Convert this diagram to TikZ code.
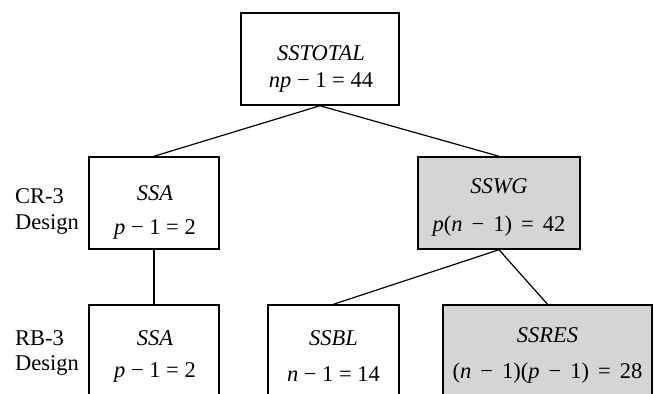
\documentclass[tikz,border=0pt]{standalone}
\usepackage{fontspec}
\setmainfont{Liberation Serif}
\usetikzlibrary{positioning}
\definecolor{boxgray}{RGB}{213,213,215}

\begin{document}
\begin{tikzpicture}[x=1pt,y=-1pt,font=\fontsize{22.5}{27}\selectfont,
  ssbox/.style={draw,line width=1.5pt,inner sep=0pt,minimum height=92pt},
  sstext/.style={align=center,anchor=base,inner sep=0pt},
  link/.style={line width=1.2pt}]
	\useasboundingbox (0,0) rectangle (654,394);
	\clip (0,0) rectangle (654,394);
	% Boxes
	\node[ssbox,minimum width=158pt] (tot) at (320,59) {};
	\node[ssbox,minimum width=130pt] (a1) at (154,203) {};
	\node[ssbox,fill=boxgray,minimum width=162pt] (wg) at (499,203) {};
	\node[ssbox,minimum width=130pt,minimum height=130pt] (a2) at (154,370) {};
	\node[ssbox,minimum width=131pt,minimum height=130pt] (bl) at (333.5,370) {};
	\node[ssbox,fill=boxgray,minimum width=209pt,minimum height=130pt] (res) at (547.5,370) {};
	% Texts (anchored at the baseline of the lower line)
	\node[sstext] (tot-t) at (321,87) {\textit{SSTOTAL}\\\textit{np} − 1 = 44};
	\node[sstext] (a1-t) at (155,234) {\textit{SSA}\\[7pt]\textit{p} − 1 = 2};
	\node[sstext] (wg-t) at (499,231) {\textit{SSWG}\\[11pt]\textit{p}(\textit{n}\hspace{0.4em}−\hspace{0.4em}1)\hspace{0.4em}=\hspace{0.4em}42};
	\node[sstext] (a2-t) at (155,377) {\textit{SSA}\\[5pt]\textit{p} − 1 = 2};
	\node[sstext] (bl-t) at (333.5,381) {\textit{SSBL}\\[9pt]\textit{n} − 1 = 14};
	\node[sstext] (res-t) at (547.5,378) {\textit{SSRES}\\[9pt](\textit{n}\hspace{0.4em}−\hspace{0.4em}1)(\textit{p}\hspace{0.4em}−\hspace{0.4em}1)\hspace{0.4em}=\hspace{0.4em}28};
	% Design labels
	\node[align=left,anchor=base west,inner sep=0pt,font=\fontsize{22.5}{26}\selectfont] (cr) at (15,229) {CR-3\\Design};
	\node[align=left,anchor=base west,inner sep=0pt,font=\fontsize{22.5}{25}\selectfont] (rb) at (15,370) {RB-3\\Design};
	% Connectors
	\draw[link] (tot.south) -- (a1.north);
	\draw[link] (tot.south) -- (wg.north);
	\draw[link] (a1.south) -- (a2.north);
	\draw[link] (wg.south) -- (bl.north);
	\draw[link] (wg.south) -- (res.north);
\end{tikzpicture}
\end{document}
